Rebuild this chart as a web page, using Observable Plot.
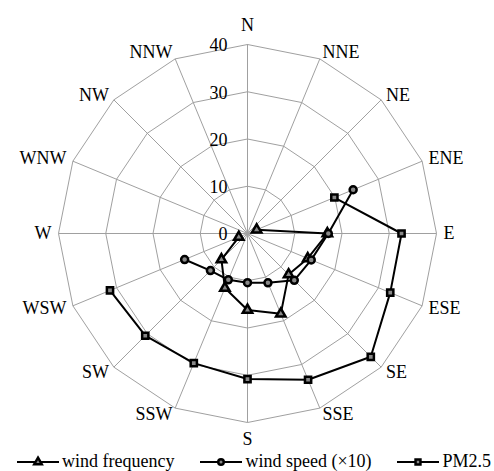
<!DOCTYPE html>
<html>
<head>
<meta charset="utf-8">
<script src="https://cdn.jsdelivr.net/npm/d3@7"></script>
<script src="https://cdn.jsdelivr.net/npm/@observablehq/plot@0.6"></script>
<style>
  body { margin: 0; background: #fff; font-family: "Liberation Serif", "Times New Roman", Times, "DejaVu Serif", serif; }
  #chart svg { display: block; overflow: visible; }
  #legend { display: flex; align-items: center; justify-content: space-between; height: 19px; padding: 0 3px 0 17px; font-size: 18px; line-height: 19px; color: #000; white-space: nowrap; }
  #legend .item { display: flex; align-items: center; }
  #legend svg { margin-right: 3px; }
</style>
</head>
<body>
<div id="chart"></div>
<div id="legend"></div>
<script>
const directions = ["N","NNE","NE","ENE","E","ESE","SE","SSE","S","SSW","SW","WSW","W","WNW","NW","NNW"];
const windFrequency = [null,null,null,2.1,16.9,13.8,12.3,18.4,16.2,12.5,7.8,2.0,null,null,null,null];
const windSpeed = [null,null,null,24.2,17.1,14.6,14.0,11.3,10.4,10.6,11.1,14.4,null,null,null,null];
const pm25 = [null,null,null,19.9,32.6,32.7,36.9,33.5,30.8,29.7,30.6,31.5,null,null,null,null];
const ticks = [0,10,20,30,40];
const seriesNames = ["wind frequency","wind speed (\u00d710)","PM2.5"];
const seriesSymbols = ["triangle","circle","square"];

const FONT = "'Liberation Serif', 'Times New Roman', Times, 'DejaVu Serif', serif";
const rMax = 40;
const ang = i => i * 2 * Math.PI / directions.length;
const px = (v, i) => v * Math.sin(ang(i));
const py = (v, i) => v * Math.cos(ang(i));

const rings = [];
ticks.filter(t => t > 0).forEach(t => {
  for (let i = 0; i <= directions.length; i++) {
    const k = i % directions.length;
    rings.push({t, x: px(t, k), y: py(t, k)});
  }
});
const spokes = directions.map((d, i) => ({d, x2: px(rMax, i), y2: py(rMax, i)}));

const allSeries = [windFrequency, windSpeed, pm25];
const seriesRows = allSeries.map((vals, s) =>
  vals.map((v, i) => v == null ? null : ({name: seriesNames[s], dir: directions[i], x: px(v, i), y: py(v, i)}))
      .filter(r => r)
);

const labelMarks = directions.map((d, i) => {
  const s = Math.sin(ang(i)), c = Math.cos(ang(i));
  const vertical = Math.abs(s) < 1e-6;
  return Plot.text([d], {
    x: () => px(rMax, i), y: () => py(rMax, i),
    text: v => v,
    textAnchor: vertical ? "middle" : (s > 0 ? "start" : "end"),
    dx: vertical ? 0 : 7 * s,
    dy: vertical ? (c > 0 ? -19 : 17) : -7 * c,
    fontSize: 18, fill: "#000", fontFamily: FONT
  });
});

const W = 494, H = 452, cx = 247, cy = 233, R = 189;
const chart = Plot.plot({
  width: W, height: H,
  marginLeft: cx - R, marginRight: W - cx - R,
  marginTop: cy - R, marginBottom: H - cy - R,
  x: {domain: [-rMax, rMax], axis: null},
  y: {domain: [-rMax, rMax], axis: null},
  style: {fontFamily: FONT, background: "#fff", overflow: "visible"},
  marks: [
    Plot.line(rings, {x: "x", y: "y", z: "t", stroke: "#a0a0a0", strokeWidth: 1}),
    Plot.link(spokes, {x1: 0, y1: 0, x2: "x2", y2: "y2", stroke: "#a0a0a0", strokeWidth: 1}),
    Plot.text(ticks, {x: 0, y: t => t, text: t => String(t), textAnchor: "end", dx: -20, dy: 1, fontSize: 18, fill: "#000", fontFamily: FONT}),
    ...labelMarks,
    ...seriesRows.map(rows => Plot.line(rows, {x: "x", y: "y", stroke: "#000", strokeWidth: 2})),
    ...seriesRows.map((rows, s) => Plot.dot(rows, {x: "x", y: "y", symbol: () => seriesSymbols[s], r: 3.5, stroke: "#000", strokeWidth: 2.5, fill: "#888"}))
  ]
});
document.getElementById("chart").appendChild(chart);

const legend = d3.select("#legend");
seriesNames.forEach((name, s) => {
  const item = legend.append("div").attr("class", "item");
  const svg = item.append("svg").attr("width", 42).attr("height", 14);
  svg.append("line").attr("x1", 0).attr("x2", 42).attr("y1", 7).attr("y2", 7).attr("stroke", "#000").attr("stroke-width", 2);
  svg.append("path")
    .attr("transform", "translate(21,7)")
    .attr("d", d3.symbol(seriesSymbols[s] === "triangle" ? d3.symbolTriangle : seriesSymbols[s] === "circle" ? d3.symbolCircle : d3.symbolSquare, 24)())
    .attr("fill", "#888").attr("stroke", "#000").attr("stroke-width", 2.5);
  item.append("span").text(name);
});
</script>
</body>
</html>
